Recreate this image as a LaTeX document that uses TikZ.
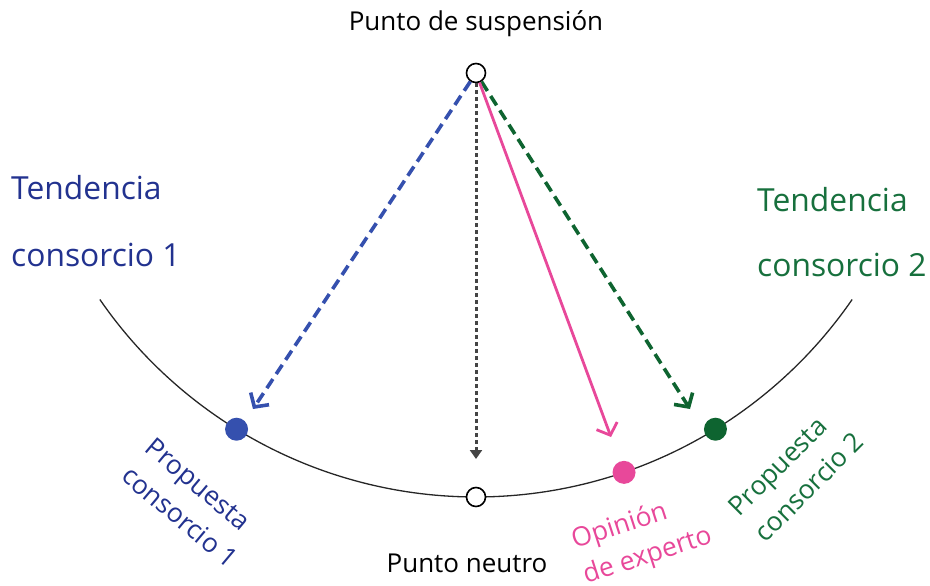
\documentclass[tikz,border=0pt]{standalone}
\usepackage{fontspec}
\setmainfont{Open Sans}
\usetikzlibrary{arrows.meta,calc}
\definecolor{cblue}{HTML}{22328F}
\definecolor{cbluedot}{HTML}{3550AE}
\definecolor{cgreen}{HTML}{17703D}
\definecolor{cgreendot}{HTML}{0E6430}
\definecolor{cpink}{HTML}{E8489A}
\definecolor{cgray}{HTML}{444444}
\tikzset{
  dotw/.style={circle,draw=black,fill=white,line width=1.6pt,minimum size=19pt,inner sep=0pt},
  dotc/.style={circle,fill=#1,minimum size=23pt,inner sep=0pt},
  big/.style={font=\fontsize{31.8}{36}\selectfont,inner sep=0pt},
  mid/.style={font=\fontsize{26}{30}\selectfont,inner sep=0pt},
  rot/.style={font=\fontsize{26.5}{37}\selectfont,inner sep=0pt,align=left},
  barb/.style={-{Straight Barb[length=10pt,width=22pt,line width=#1]}},
}
\begin{document}
\begin{tikzpicture}[x=1pt,y=-1pt]
\useasboundingbox (0,0) rectangle (930,586);
\coordinate (c) at (476,40);
% arc
\draw[line width=1.3pt,black!85] plot[domain=145.4:34.6,samples=120] ({476+457*cos(\x)},{40+457*sin(\x)});
% nodes on arc
\node[dotw] (top) at (476,73) {};
\node[dotw] (bot) at ($(c)+(90:457)$) {};
\node[dotc=cbluedot] (p1) at ($(c)+(121.6:457)$) {};
\node[dotc=cgreendot] (p2) at ($(c)+(58.4:457)$) {};
\node[dotc=cpink] (pe) at ($(c)+(71.1:457)$) {};
% arrow ends
\coordinate (eb) at (253,409);
\coordinate (eg) at (690,409);
\coordinate (ep) at (611,437);
\coordinate (en) at (476,459);
% arrows
\draw[cbluedot,line width=3.6pt,dash pattern=on 11pt off 6pt,barb=3.6pt] (top) -- (eb);
\draw[cgreendot,line width=3.6pt,dash pattern=on 11pt off 6pt,barb=3.6pt] (top) -- (eg);
\draw[cpink,line width=2.8pt,barb=2.8pt] (top) -- (ep);
\draw[cgray,line width=3pt,dash pattern=on 4pt off 3pt,-{Triangle[length=9pt,width=12pt]}] (top) -- (en);
% labels
\node[mid] (ls) at (476,24) {Punto de suspensión};
\node[mid] (ln) at (467,563) {Punto neutro};
\node[big,text=cblue,anchor=west] (t1a) at (11,188) {Tendencia};
\node[big,text=cblue,anchor=west] (t1b) at (11,255) {consorcio 1};
\node[big,text=cgreen,anchor=west] (t2a) at (757,200) {Tendencia};
\node[big,text=cgreen,anchor=west] (t2b) at (757,265) {consorcio 2};
\node[rot,text=cblue,rotate=-40] (l1) at (192,503) {Propuesta\\consorcio 1};
\node[rot,text=cgreen,rotate=45] (l2) at (796,474) {Propuesta\\consorcio 2};
\node[rot,text=cpink,rotate=18] (l3) at (642,539) {Opinión\\de experto};
\end{tikzpicture}
\end{document}
